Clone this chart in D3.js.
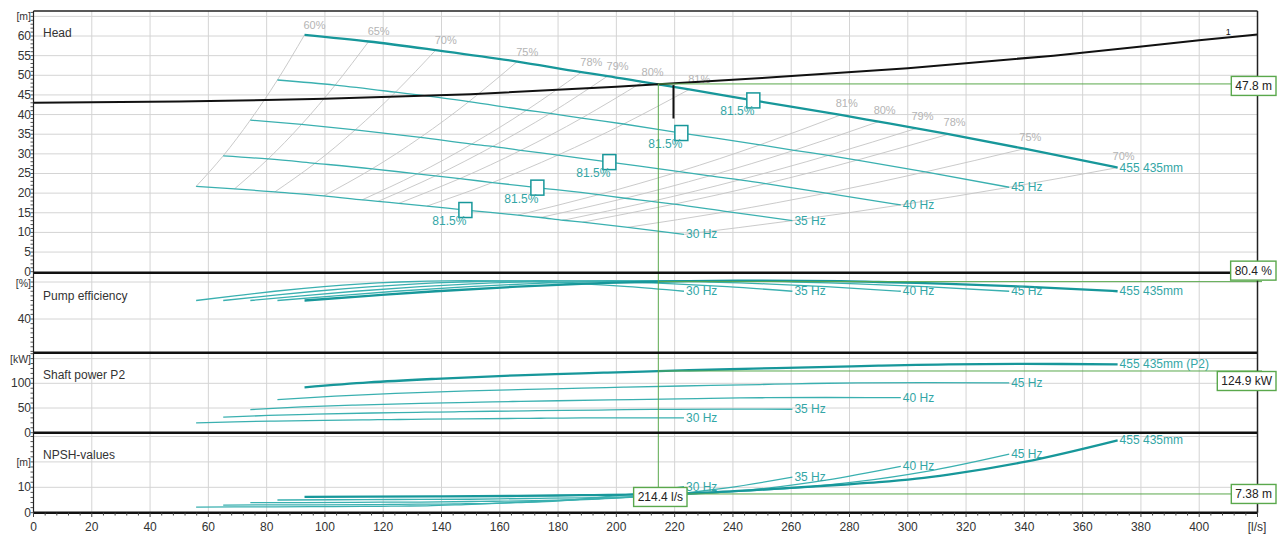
<!DOCTYPE html>
<html>
<head>
<meta charset="utf-8">
<script src="https://cdn.jsdelivr.net/npm/d3@7"></script>
<style>
  body { margin: 0; background: #fff; }
  svg text { font-family: "Liberation Sans", Arial, sans-serif; }
</style>
</head>
<body>
<svg id="chart" width="1281" height="539"></svg>
<script>
// ---- data ----
const speedLabels = ["30 Hz", "35 Hz", "40 Hz", "45 Hz", "455 435mm"];
// efficiency at each point of the speed curves (same index on every curve)
const effPoints = [60, 65, 70, 75, 78, 79, 80, 81, 81.5, 81, 80, 79, 78, 75, 70];

const flow30 = [55.8, 69, 82.8, 99.6, 112.8, 118.2, 125.4, 135, 148.2, 166.2, 174, 181.8, 188.4, 204, 223.2];
const flow35 = [65.1, 80.5, 96.6, 116.2, 131.6, 137.9, 146.3, 157.5, 172.9, 193.9, 203, 212.1, 219.8, 238, 260.4];
const flow40 = [74.4, 92, 110.4, 132.8, 150.4, 157.6, 167.2, 180, 197.6, 221.6, 232, 242.4, 251.2, 272, 297.6];
const flow45 = [83.7, 103.5, 124.2, 149.4, 169.2, 177.3, 188.1, 202.5, 222.3, 249.3, 261, 272.7, 282.6, 306, 334.8];
const flowFull = [93, 115, 138, 166, 188, 197, 209, 225, 247, 277, 290, 303, 314, 340, 372];

const head30 = [21.7, 21.1, 20.3, 19.3, 18.3, 17.9, 17.4, 16.7, 15.7, 14.4, 13.8, 13.1, 12.6, 11.3, 9.5];
const head35 = [29.5, 28.7, 27.6, 26.2, 24.9, 24.4, 23.7, 22.7, 21.4, 19.6, 18.7, 17.9, 17.2, 15.3, 13.0];
const head40 = [38.6, 37.5, 36.1, 34.2, 32.5, 31.9, 30.9, 29.7, 27.9, 25.5, 24.4, 23.4, 22.4, 20.0, 17.0];
const head45 = [48.8, 47.5, 45.7, 43.3, 41.1, 40.3, 39.1, 37.6, 35.3, 32.3, 30.9, 29.6, 28.4, 25.4, 21.5];
const headFull = [60.3, 58.6, 56.4, 53.5, 50.8, 49.8, 48.3, 46.4, 43.6, 39.9, 38.2, 36.5, 35.0, 31.3, 26.5];

const power30 = [19.8, 22.0, 23.6, 25.1, 25.9, 26.3, 26.7, 27.3, 28.0, 28.9, 29.3, 29.7, 29.9, 30.1, 29.9];
const power35 = [31.5, 34.9, 37.4, 39.9, 41.2, 41.8, 42.5, 43.4, 44.5, 45.9, 46.6, 47.1, 47.4, 47.7, 47.5];
const power40 = [46.9, 52.1, 55.9, 59.5, 61.5, 62.4, 63.4, 64.7, 66.4, 68.5, 69.5, 70.3, 70.8, 71.3, 70.9];
const power45 = [66.8, 74.1, 79.5, 84.7, 87.6, 88.8, 90.3, 92.1, 94.5, 97.5, 99.0, 100.1, 100.7, 101.5, 101.0];
const powerFull = [91.7, 101.7, 109.1, 116.2, 120.1, 121.8, 123.8, 126.4, 129.6, 133.8, 135.8, 137.3, 138.2, 139.2, 138.5];

const npsh30 = [2.2, 2.3, 2.3, 2.4, 2.5, 2.5, 2.6, 2.7, 3.2, 4.0, 4.3, 4.8, 5.4, 7.2, 10.3];
const npsh35 = [3.0, 3.1, 3.1, 3.2, 3.4, 3.4, 3.5, 3.7, 4.4, 5.4, 5.9, 6.6, 7.4, 9.8, 14.0];
const npsh40 = [4.0, 4.0, 4.1, 4.2, 4.4, 4.5, 4.6, 4.9, 5.7, 7.0, 7.7, 8.6, 9.6, 12.8, 18.2];
const npsh45 = [5.0, 5.1, 5.2, 5.3, 5.6, 5.7, 5.8, 6.2, 7.2, 8.9, 9.7, 10.9, 12.2, 16.2, 23.1];
const npshFull = [6.2, 6.3, 6.4, 6.6, 6.9, 7.0, 7.2, 7.6, 8.9, 11.0, 12.0, 13.4, 15.0, 20.0, 28.5];

// system curve
const systemFlow = [0, 50, 100, 150, 200, 250, 300, 350, 400, 420];
const systemHead = [43.0, 43.3, 44.0, 45.2, 47.1, 49.3, 51.8, 55.0, 58.9, 60.4];

// operating point
const opFlow = 214.4, opHead = 47.8, opEff = 80.4, opPower = 124.9, opNpsh = 7.38;
const dutyMark = { flow: 219.6, top: 47.5, bottom: 39.0 };

// tick labels
const xTicks = d3.range(0, 401, 20);
const headTicks = d3.range(0, 61, 5);
const effTicks = [40];
const powerTicks = [0, 50, 100];
const npshTicks = [0, 10];

const flows = [flow30, flow35, flow40, flow45, flowFull];
const heads = [head30, head35, head40, head45, headFull];
const powers = [power30, power35, power40, power45, powerFull];
const npshs = [npsh30, npsh35, npsh40, npsh45, npshFull];

// ---- scales ----
const svg = d3.select("#chart");
const x = d3.scaleLinear().domain([0, 420]).range([33.5, 1257.5]);
const yHead = d3.scaleLinear().domain([0, 60]).range([271.7, 36]);
const yEff = d3.scaleLinear().domain([40, 80]).range([319, 282]);
const yPow = d3.scaleLinear().domain([0, 100]).range([432.7, 383.3]);
const yNpsh = d3.scaleLinear().domain([0, 10]).range([512.7, 487.3]);

const panels = [
  { title: "Head", y: yHead, top: 11, bottom: 271.7, grid: 5, minor: 1, labels: headTicks, unit: "[m]", unitAt: 65 },
  { title: "Pump efficiency", y: yEff, top: 273.7, bottom: 352.7, grid: 40, minor: 5, labels: effTicks, unit: "[%]", unitAt: 79 },
  { title: "Shaft power P2", y: yPow, top: 352.7, bottom: 432.7, grid: 50, minor: 10, labels: powerTicks, unit: "[kW]", unitAt: 150 },
  { title: "NPSH-values", y: yNpsh, top: 432.7, bottom: 512.7, grid: 10, minor: 2, labels: npshTicks, unit: "[m]", unitAt: 20 }
];

const teal = "#3ab0b0", tealDark = "#17979a", tealText = "#33a6a6";
const green = "#5aa84c", grey = "#333";

const gGrid = svg.append("g");
const gIso = svg.append("g");
const gCurves = svg.append("g");
const gTop = svg.append("g");

// vertical grid
gGrid.selectAll("line.vx")
  .data(d3.range(20, 420, 20))
  .enter().append("line")
  .attr("x1", d => x(d)).attr("x2", d => x(d))
  .attr("y1", 11).attr("y2", 512.7)
  .attr("stroke", "#d4d4d4").attr("stroke-width", 1);

// horizontal grid per panel
panels.forEach(p => {
  const vals = d3.range(0, 200, p.grid).filter(v => p.y(v) > p.top + 1 && p.y(v) < p.bottom - 1);
  gGrid.selectAll(null).data(vals).enter().append("line")
    .attr("x1", x(0)).attr("x2", x(420))
    .attr("y1", d => p.y(d)).attr("y2", d => p.y(d))
    .attr("stroke", "#d4d4d4").attr("stroke-width", 1);
});

const line = d3.line().curve(d3.curveMonotoneX);

// iso-efficiency lines in head panel
const bep = effPoints.indexOf(81.5);
effPoints.forEach((e, k) => {
  if (k === bep) return;
  const pts = flows.map((f, s) => [x(f[k]), yHead(heads[s][k])]);
  gIso.append("path")
    .attr("d", d3.line().curve(d3.curveNatural)(pts))
    .attr("fill", "none").attr("stroke", "#c4c4c4").attr("stroke-width", 0.9);
  const right = k > bep;
  gIso.append("text")
    .attr("x", x(flowFull[k]) + (right ? 6 : 10))
    .attr("y", yHead(headFull[k]) - (right ? 8 : 6))
    .attr("text-anchor", "middle")
    .attr("font-size", 11).attr("fill", "#b4b4b4")
    .text(e + "%");
});

function drawSet(values, yScale, extraLabel) {
  flows.forEach((f, s) => {
    const full = s === 4;
    const pts = f.map((q, i) => [x(q), yScale(values[s][i])]);
    gCurves.append("path")
      .attr("d", line(pts))
      .attr("fill", "none")
      .attr("stroke", full ? tealDark : teal)
      .attr("stroke-width", full ? 2.3 : 1.3);
    const last = pts[pts.length - 1];
    gTop.append("text")
      .attr("x", last[0] + 2).attr("y", last[1] + 4)
      .attr("font-size", 12).attr("fill", tealText)
      .text(speedLabels[s] + (full && extraLabel ? extraLabel : ""));
  });
}

const effs = flows.map(() => effPoints);
drawSet(heads, yHead);
drawSet(effs, yEff);
drawSet(powers, yPow, " (P2)");
drawSet(npshs, yNpsh);

// system curve
gCurves.append("path")
  .attr("d", line(systemFlow.map((q, i) => [x(q), yHead(systemHead[i])])))
  .attr("fill", "none").attr("stroke", "#111").attr("stroke-width", 2);
gTop.append("text")
  .attr("x", x(410)).attr("y", yHead(59.6) - 3)
  .attr("text-anchor", "middle").attr("font-size", 9).attr("fill", "#111")
  .text("1");

// duty mark
gCurves.append("line")
  .attr("x1", x(dutyMark.flow)).attr("x2", x(dutyMark.flow))
  .attr("y1", yHead(dutyMark.top)).attr("y2", yHead(dutyMark.bottom))
  .attr("stroke", "#111").attr("stroke-width", 2);

// BEP markers
flows.forEach((f, s) => {
  const cx = x(f[bep]), cy = yHead(heads[s][bep]);
  gTop.append("rect")
    .attr("x", cx - 6.5).attr("y", cy - 7.5)
    .attr("width", 13).attr("height", 15)
    .attr("fill", "#fff").attr("stroke", tealDark).attr("stroke-width", 1.5);
  gTop.append("text")
    .attr("x", cx + 1).attr("y", cy + 15)
    .attr("text-anchor", "end").attr("font-size", 12).attr("fill", tealText)
    .text("81.5%");
});

// operating point guides
const xo = x(opFlow);
gTop.append("line")
  .attr("x1", xo).attr("x2", xo).attr("y1", yHead(opHead)).attr("y2", yNpsh(opNpsh) + 3)
  .attr("stroke", green).attr("stroke-width", 1);
[yHead(opHead), yEff(opEff), yPow(opPower), yNpsh(opNpsh)].forEach(yy => {
  gTop.append("line")
    .attr("x1", xo).attr("x2", 1262).attr("y1", yy).attr("y2", yy)
    .attr("stroke", green).attr("stroke-width", 1);
});

// panel titles, y labels, minor ticks
panels.forEach(p => {
  gTop.append("text")
    .attr("x", 43).attr("y", p.top + 26)
    .attr("font-size", 12).attr("fill", grey)
    .text(p.title);
  p.labels.forEach(v => {
    gTop.append("text")
      .attr("x", 31).attr("y", p.y(v) + 4)
      .attr("text-anchor", "end").attr("font-size", 12).attr("fill", grey)
      .text(v);
  });
  gTop.append("text")
    .attr("x", 31).attr("y", p.y(p.unitAt) + 4)
    .attr("text-anchor", "end").attr("font-size", 10.5).attr("fill", grey)
    .text(p.unit);
  const minors = d3.range(0, 200, p.minor).filter(v => p.y(v) >= p.top && p.y(v) <= p.bottom);
  gTop.selectAll(null).data(minors).enter().append("line")
    .attr("x1", 30.5).attr("x2", 33.5)
    .attr("y1", d => p.y(d)).attr("y2", d => p.y(d))
    .attr("stroke", "#555").attr("stroke-width", 1);
});

// separators & borders
[272.7, 352.7, 432.7, 512.7].forEach(yy => {
  gTop.append("line")
    .attr("x1", x(0)).attr("x2", x(420)).attr("y1", yy).attr("y2", yy)
    .attr("stroke", "#111").attr("stroke-width", 2.6);
});
gTop.append("line").attr("x1", x(0)).attr("x2", x(420)).attr("y1", 11).attr("y2", 11)
  .attr("stroke", "#222").attr("stroke-width", 1.5);
gTop.append("line").attr("x1", x(420)).attr("x2", x(420)).attr("y1", 11).attr("y2", 512.7)
  .attr("stroke", "#222").attr("stroke-width", 1.5);
gTop.append("line").attr("x1", x(0)).attr("x2", x(0)).attr("y1", 11).attr("y2", 512.7)
  .attr("stroke", "#222").attr("stroke-width", 1.2);

// x axis
gTop.selectAll(null).data(d3.range(0, 421, 4)).enter().append("line")
  .attr("x1", d => x(d)).attr("x2", d => x(d))
  .attr("y1", 512.7).attr("y2", d => d % 20 === 0 ? 517 : 515.5)
  .attr("stroke", "#444").attr("stroke-width", 1);
gTop.selectAll(null).data(xTicks).enter().append("text")
  .attr("x", d => x(d)).attr("y", 531)
  .attr("text-anchor", "middle").attr("font-size", 12).attr("fill", grey)
  .text(d => d);
gTop.append("text")
  .attr("x", 1257).attr("y", 531).attr("text-anchor", "middle")
  .attr("font-size", 12).attr("fill", grey).text("[l/s]");

// value boxes
function valueBox(text, cx, cy, anchorRight) {
  const t = gTop.append("text")
    .attr("font-size", 12).attr("fill", "#222").text(text);
  const w = t.node().getComputedTextLength() + 8, h = 19;
  const left = anchorRight ? cx - w : cx - w / 2;
  gTop.insert("rect", () => t.node())
    .attr("x", left).attr("y", cy - h / 2).attr("width", w).attr("height", h)
    .attr("fill", "#fff").attr("stroke", green).attr("stroke-width", 1.4);
  t.attr("x", left + 4).attr("y", cy + 4);
}
valueBox(opHead + " m", 1276, yHead(opHead) + 2, true);
valueBox(opEff + " %", 1276, yEff(opEff) - 11, true);
valueBox(opPower + " kW", 1276, yPow(opPower) + 10, true);
valueBox(opNpsh + " m", 1276, yNpsh(opNpsh), true);
valueBox(opFlow + " l/s", xo + 2, yNpsh(opNpsh) + 3, false);
</script>
</body>
</html>
